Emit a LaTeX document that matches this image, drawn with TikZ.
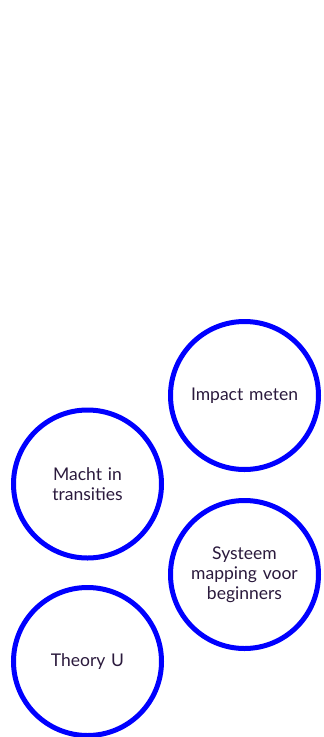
\documentclass[tikz,border=0pt]{standalone}
\usepackage{fontspec}
\setmainfont{Lato}
\definecolor{ringblue}{RGB}{0,0,255}
\definecolor{inkpurple}{RGB}{43,26,61}
\begin{document}
\begin{tikzpicture}
	[	x=1pt,y=-1pt,
	course/.style={circle,draw=ringblue,line width=5pt,fill=white,minimum size=148pt,inner sep=0pt,
		text width=120pt,align=center,font=\fontsize{17.5}{20}\selectfont,text=inkpurple}
	]
	\useasboundingbox (0,0) rectangle (324,737);
	\node[course] (impact) at (244.5,395.5){Impact meten};
	\node[course] (macht) at (87.5,484){Macht in\\transities};
	\node[course] (systeem) at (244.5,574.5){Systeem\\mapping voor\\beginners};
	\node[course] (theory) at (87.5,661.5){Theory U};
\end{tikzpicture}
\end{document}
